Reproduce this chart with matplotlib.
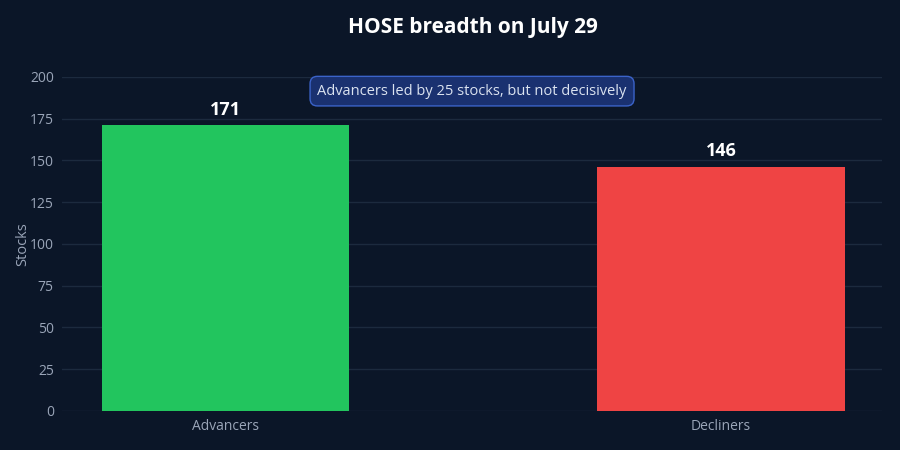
import matplotlib.pyplot as plt

plt.rcParams['font.family'] = ['Open Sans', 'DejaVu Sans']

categories = ['Advancers', 'Decliners']
counts = [171, 146]
bar_colors = ['#22c55e', '#ef4444']
note = 'Advancers led by 25 stocks, but not decisively'

bg = '#0b1628'
grid = '#1c2a3e'
tick = '#9aa5b8'

fig = plt.figure(figsize=(9, 4.5), dpi=100, facecolor=bg)
ax = fig.add_axes([0.069, 0.087, 0.911, 0.742], facecolor=bg)

x = list(range(len(categories)))
ax.bar(x, counts, width=0.5, color=bar_colors, zorder=3)

# value labels over bars
for xi, v in zip(x, counts):
    ax.text(xi, v + 4, str(v), ha='center', va='bottom', color='white',
            fontsize=13, fontweight='bold', zorder=4)

ax.set_xlim(-0.33, 1.325)
ax.set_ylim(0, 200)
ax.set_xticks(x)
ax.set_xticklabels(categories)
ax.set_yticks(range(0, 201, 25))
ax.tick_params(colors=tick, labelsize=10, length=0, pad=6)
ax.grid(axis='y', color=grid, linewidth=1, zorder=0)
for s in ax.spines.values():
    s.set_visible(False)
ax.set_ylabel('Stocks', color=tick, fontsize=10.5, labelpad=0)

ax.text(0.5, 191.5, note, transform=ax.get_yaxis_transform(), ha='center', va='center',
        color='#dbe3f0', fontsize=10.5, zorder=5,
        bbox=dict(boxstyle='round,pad=0.5,rounding_size=0.5', facecolor='#1a3170',
                  edgecolor='#3b63c9', linewidth=1))

fig.text(0.526, 0.938, 'HOSE breadth on July 29', ha='center', va='center',
         color='white', fontsize=15, fontweight='bold')

fig.savefig('out.png', dpi=100, facecolor=bg)
